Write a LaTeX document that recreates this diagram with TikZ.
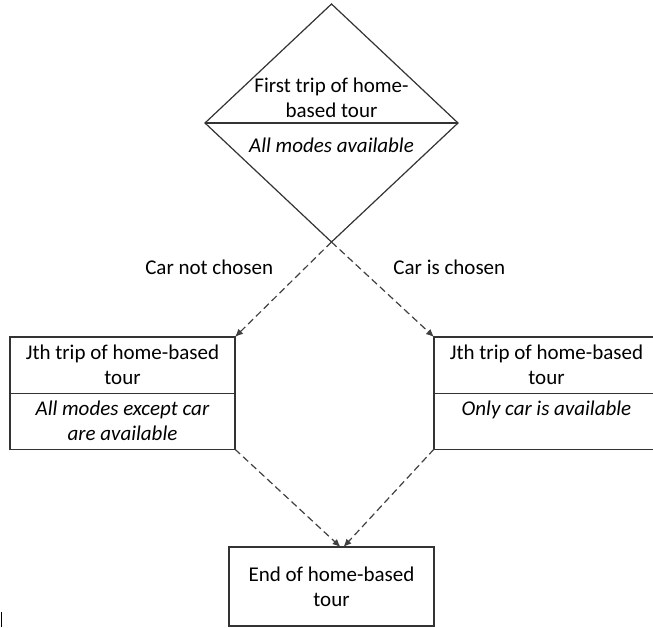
\documentclass[tikz,border=0pt]{standalone}
\usepackage{fontspec}
\setmainfont{Carlito}
\usetikzlibrary{arrows.meta, positioning, shapes.geometric, shapes.multipart}
\tikzset{
    tourdiagram/.style={>={Latex[length=4pt, width=3.5pt]}, line width=0.6pt, font=\fontsize{10.5pt}{12.5pt}\selectfont},
    decision/.style={draw=black!80, diamond, minimum width=126.5pt, minimum height=119pt, inner sep=0pt, outer sep=0pt},
    tripbox/.style={draw=black!80, rectangle split, rectangle split parts=2, minimum width=112.5pt, align=center, inner xsep=3pt, inner ysep=3.8pt, outer sep=0pt},
    endbox/.style={draw=black!80, minimum width=102.5pt, minimum height=39.5pt, align=center, outer sep=0pt},
    flow/.style={->, draw=black!75, dash pattern=on 3.5pt off 2pt},
}

\begin{document}
\begin{tikzpicture}[tourdiagram]
    \useasboundingbox (0,0) rectangle (326.5pt,313.5pt);

    \node[decision] (trip1) at (165.75pt,252pt) {};
    \draw[draw=black!80] (trip1.west) -- (trip1.east);
    \node[above=-1pt, align=center] (trip1top) at (trip1.center) {First trip of home-\\based tour};
    \node[below=4pt] (trip1bot) at (trip1.center) {\textit{All modes available}};

    \node[tripbox, below left=47.5pt and 48.25pt of trip1.south] (jnocar)
        {Jth trip of home-based\\tour \nodepart{two} \textit{All modes except car}\\\textit{are available}};
    \node[tripbox, below right=47.5pt and 51.25pt of trip1.south] (jcar)
        {Jth trip of home-based\\tour \nodepart{two} \textit{Only car is available}\\\mbox{}};
    \node[endbox, below=152.5pt of trip1.south] (endtour) {End of home-based\\tour};

    \draw[flow] (trip1.south) -- (jnocar.north east) node[pos=0.27, left=12.5pt] {Car not chosen};
    \draw[flow] (trip1.south) -- (jcar.north west) node[pos=0.27, right=13.5pt] {Car is chosen};
    \draw[flow] (jnocar.south east) -- ([xshift=4.5pt]endtour.north);
    \draw[flow] (jcar.south west) -- ([xshift=6pt]endtour.north);

    % small mark at the lower left edge
    \draw[line width=0.8pt] (0.75pt,0pt) -- (0.75pt,7.5pt);
\end{tikzpicture}
\end{document}
